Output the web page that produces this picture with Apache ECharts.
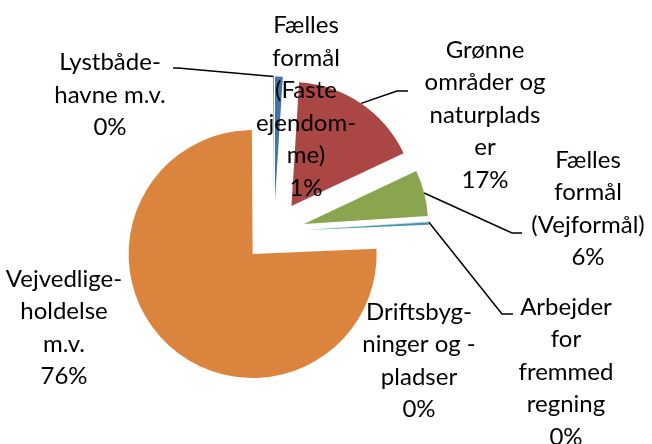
<!DOCTYPE html>
<html>
<head>
<meta charset="utf-8">
<script src="https://cdn.jsdelivr.net/npm/echarts@6/dist/echarts.min.js"></script>
<style>
  html, body { margin: 0; background: #fff; }
  #pieChart { width: 652px; height: 444px; }
</style>
</head>
<body>
<div id="pieChart"></div>
<script>
  // categories in clockwise order from 12 o'clock (text wrapped as in the original)
  var categories = [
    'Fælles\nformål\n(Faste\nejendom-\nme)',
    'Grønne\nområder og\nnaturplads\ner',
    'Fælles\nformål\n(Vejformål)',
    'Arbejder\nfor\nfremmed\nregning',
    'Driftsbyg-\nninger og -\npladser',
    'Vejvedlige-\nholdelse\nm.v.',
    'Lystbåde-\nhavne m.v.'
  ];
  // shares in percent
  var shares = [1.0, 17.0, 6.0, 0.02, 0.3, 75.6, 0.1];
  var colorList = ['#4572A7', '#AA4643', '#89A54E', '#71588F', '#4198AF', '#DB843D', '#4572A7'];
  // centre of each label block
  var labelPos = [[306, 107], [485, 115], [588, 209], [566, 372], [419, 361], [64, 328], [110, 95]];
  // leader line end next to the label [x, y, elbow] (null = no leader line)
  var leaderEnd = [null, [408, 91, -11], [522, 233, -10], [513, 314, -11], null, null, [173, 68, 5]];

  var pieCenter = [274, 231.6];
  var pieRadius = 124;
  var explode = 31;   // every slice pulled out, like Excel's exploded pie

  var chart = echarts.init(document.getElementById('pieChart'));

  var total = 0;
  for (var k = 0; k < shares.length; k++) total += shares[k];

  // one series per slice so that each can be pulled out along its own bisector
  var series = [];
  var arcMid = [];
  var acc = 0;
  for (var i = 0; i < shares.length; i++) {
    var mid = (acc + shares[i] / 2) / total * 2 * Math.PI;
    acc += shares[i];
    var cx = pieCenter[0] + explode * Math.sin(mid);
    var cy = pieCenter[1] - explode * Math.cos(mid);
    arcMid.push([cx + pieRadius * Math.sin(mid), cy - pieRadius * Math.cos(mid)]);

    var data = [];
    for (var j = 0; j < shares.length; j++) {
      data.push({
        name: categories[j],
        value: shares[j],
        itemStyle: { color: j === i ? colorList[j] : 'rgba(0,0,0,0)' },
        label: { show: j === i },
        labelLine: { show: j === i && leaderEnd[j] != null }
      });
    }
    series.push({
      type: 'pie',
      center: [cx, cy],
      radius: pieRadius,
      startAngle: 90,
      clockwise: true,
      silent: true,
      avoidLabelOverlap: false,
      itemStyle: { borderWidth: 0 },
      emphasis: { disabled: true },
      label: {
        position: 'outside',
        color: '#000',
        fontFamily: 'Lato',
        fontSize: 24,
        lineHeight: 32.5,
        align: 'center',
        formatter: function (p) {
          return p.name + '\n' + Math.round(p.percent) + '%';
        }
      },
      labelLine: {
        lineStyle: { color: '#000', width: 1.5 }
      },
      labelLayout: function (params) {
        var idx = params.dataIndex;
        var pos = labelPos[idx];
        var res = { x: pos[0], y: pos[1], align: 'center', verticalAlign: 'middle' };
        var end = leaderEnd[idx];
        if (end) {
          res.labelLinePoints = [arcMid[idx], [end[0] + end[2], end[1]], [end[0], end[1]]];
        }
        return res;
      },
      data: data
    });
  }

  chart.setOption({ animation: false, series: series });
</script>
</body>
</html>
